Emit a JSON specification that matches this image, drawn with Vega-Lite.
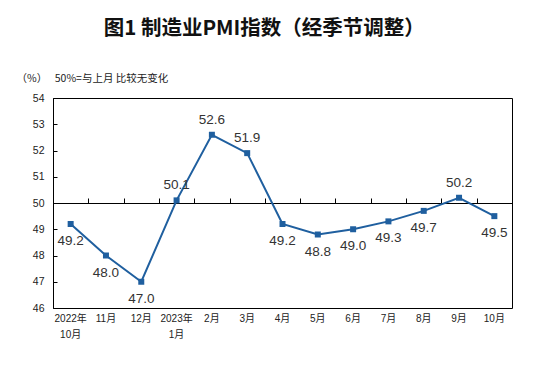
{
  "$schema": "https://vega.github.io/schema/vega-lite/v6.json",
  "width": 459,
  "height": 210,
  "autosize": "none",
  "padding": {"left": 53, "top": 98, "right": 33, "bottom": 67},
  "background": "white",
  "config": {
    "view": {"stroke": "black", "strokeWidth": 1},
    "font": "Liberation Sans, Noto Sans CJK SC"
  },
  "title": {
    "text": "图1 制造业PMI指数（经季节调整）",
    "font": "Noto Sans CJK SC",
    "fontSize": 20.5,
    "fontWeight": 600,
    "color": "#111111",
    "anchor": "middle",
    "frame": "bounds",
    "offset": 34
  },
  "data": {
    "values": [
      {"m": "2022年10月", "v": 49.2},
      {"m": "11月", "v": 48.0},
      {"m": "12月", "v": 47.0},
      {"m": "2023年1月", "v": 50.1},
      {"m": "2月", "v": 52.6},
      {"m": "3月", "v": 51.9},
      {"m": "4月", "v": 49.2},
      {"m": "5月", "v": 48.8},
      {"m": "6月", "v": 49.0},
      {"m": "7月", "v": 49.3},
      {"m": "8月", "v": 49.7},
      {"m": "9月", "v": 50.2},
      {"m": "10月", "v": 49.5}
    ]
  },
  "layer": [
    {
      "mark": {"type": "line", "color": "#1f5f9f", "strokeWidth": 2,
        "point": {"shape": "square", "size": 36, "filled": true, "color": "#1f5f9f", "opacity": 1}},
      "encoding": {
        "x": {"field": "m", "type": "nominal", "sort": null, "bandPosition": 0.5,
          "scale": {"type": "band", "paddingInner": 0, "paddingOuter": 0},
          "axis": {"orient": "bottom", "title": null, "domain": false, "ticks": false, "labelAngle": 0,
            "labelFont": "Liberation Sans, Noto Sans CJK SC", "labelFontSize": 10, "labelColor": "#222222",
            "labelPadding": 10, "labelBaseline": "middle", "labelLineHeight": 16,
            "labelExpr": "indexof(datum.value, '年') > 0 ? [substring(datum.value, 0, 5), substring(datum.value, 5)] : datum.value"}},
        "y": {"field": "v", "type": "quantitative",
          "scale": {"domain": [46, 54], "nice": false, "zero": false},
          "axis": {"values": [46, 47, 48, 49, 50, 51, 52, 53, 54], "grid": false,
            "domainColor": "black", "tickColor": "black", "tickSize": -4,
            "labelFont": "Liberation Sans", "labelFontSize": 10.5, "labelColor": "#222222", "labelPadding": 13,
            "title": "（%）　\u00a050%=与上月\u00a0比较无变化",
            "titleFont": "Noto Sans CJK SC", "titleFontSize": 10.5, "titleFontWeight": "normal", "titleColor": "#222222",
            "titleAngle": 0, "titleAlign": "left", "titleBaseline": "middle", "titleX": -37, "titleY": -20}}
      }
    },
    {
      "transform": [{"filter": "datum.v >= 50"}],
      "mark": {"type": "text", "dy": -15, "fontSize": 13.5, "font": "Liberation Sans", "color": "#333333"},
      "encoding": {
        "x": {"field": "m", "type": "nominal", "sort": null, "bandPosition": 0.5,
          "axis": {"orient": "top", "offset": -105, "labels": false, "title": null,
            "ticks": true, "tickBand": "extent", "tickSize": 5, "tickColor": "black", "domainColor": "black"}},
        "y": {"field": "v", "type": "quantitative", "axis": null},
        "text": {"field": "v", "type": "quantitative", "format": ".1f"}
      }
    },
    {
      "transform": [{"filter": "datum.v < 50"}],
      "mark": {"type": "text", "dy": 17, "fontSize": 13.5, "font": "Liberation Sans", "color": "#333333"},
      "encoding": {
        "x": {"field": "m", "type": "nominal", "sort": null, "bandPosition": 0.5, "axis": null},
        "y": {"field": "v", "type": "quantitative", "axis": null},
        "text": {"field": "v", "type": "quantitative", "format": ".1f"}
      }
    }
  ],
  "resolve": {"axis": {"x": "independent", "y": "independent"}}
}
